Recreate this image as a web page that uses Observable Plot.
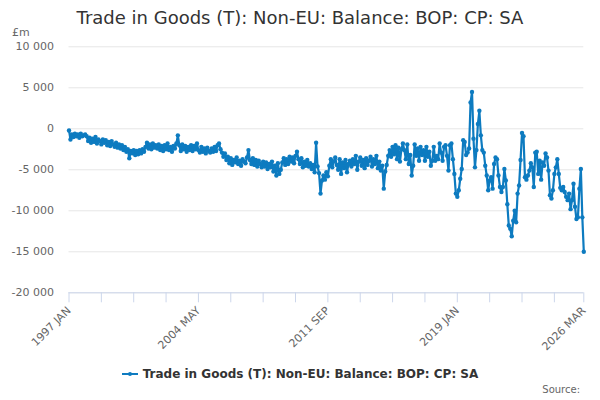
<!DOCTYPE html>
<html><head><meta charset="utf-8">
<script src="https://cdn.jsdelivr.net/npm/d3@7"></script>
<script src="https://cdn.jsdelivr.net/npm/@observablehq/plot@0.6"></script>
<style>
body{margin:0;background:#fff;font-family:"DejaVu Sans",sans-serif;}
#wrap{position:relative;width:600px;height:400px;overflow:hidden;}
#chart{position:absolute;left:0;top:0;}
#title{position:absolute;left:0;width:600px;top:7px;text-align:center;font-size:18px;color:#333;white-space:nowrap;}
#unit{position:absolute;left:12px;top:26px;font-size:11px;color:#666;}
#legend{position:absolute;left:0;width:600px;top:367px;text-align:center;font-size:12px;font-weight:bold;color:#333;white-space:nowrap;}
#legend svg{vertical-align:-1px;margin-right:5px;}
#source{position:absolute;right:20px;top:384px;font-size:10px;color:#666;}
</style></head>
<body><div id="wrap">
<div id="chart"></div>
<div id="title"></div>
<div id="unit">£m</div>
<div id="legend"></div>
<div id="source">Source:</div>
</div>
<script>
const title = "Trade in Goods (T): Non-EU: Balance: BOP: CP: SA";
const seriesName = "Trade in Goods (T): Non-EU: Balance: BOP: CP: SA";
const startYear = 1997;
const monthNames = ["JAN","FEB","MAR","APR","MAY","JUN","JUL","AUG","SEP","OCT","NOV","DEC"];
const tickLabels = ["1997 JAN","2004 MAY","2011 SEP","2019 JAN","2026 MAR"];
const yTicks = [-20000,-15000,-10000,-5000,0,5000,10000];

// monthly values, £m, Jan 1997 - Dec 2006
const values1997_2006 = [
 -200,-1300,-700,-1000,-600,-900,-700,-1100,-600,-900,-800,-700,
 -900,-1500,-1100,-1700,-1200,-1600,-1000,-1800,-1300,-1500,-1900,-1300,
 -1700,-1400,-2000,-1600,-2100,-1500,-1900,-2200,-1700,-2300,-1900,-2400,
 -2000,-2600,-2200,-2800,-2500,-3600,-2700,-3000,-2600,-3200,-2700,-3100,
 -2600,-3000,-2500,-2800,-2200,-1700,-2400,-1900,-2500,-1800,-2300,-2000,
 -2400,-1900,-2600,-2100,-2700,-2000,-2500,-1800,-2600,-2200,-2800,-2100,
 -2400,-1800,-800,-2000,-2700,-1900,-2500,-2100,-2800,-2200,-2600,-2000,
 -2700,-2100,-2500,-1800,-2600,-2900,-2200,-2800,-2400,-3000,-2300,-2700,
 -2900,-2400,-2800,-2200,-2700,-2000,-1800,-2500,-2900,-3400,-3000,-3800,
 -3400,-4200,-3600,-4400,-3800,-4100,-3500,-4300,-3900,-4500,-3700,-4000
];
// Jan 2007 - Dec 2016
const values2007_2016 = [
 -4200,-3500,-2600,-3800,-4300,-3600,-4400,-3800,-4600,-3900,-4300,-4700,
 -4000,-4600,-4100,-4900,-4300,-4700,-4000,-5200,-4500,-5700,-4200,-5500,
 -5000,-4100,-3600,-4400,-3700,-4300,-3400,-4000,-3500,-4200,-3300,-2800,
 -3700,-4300,-3600,-4700,-4000,-4500,-3800,-4600,-4200,-4900,-4400,-5300,
 -1700,-4600,-5400,-7900,-6300,-5700,-6200,-5300,-5800,-4500,-3700,-4700,
 -4000,-3500,-4400,-5000,-3700,-5500,-4100,-4800,-3800,-5300,-4300,-3900,
 -4600,-3700,-4300,-3300,-5000,-4000,-3500,-4500,-3800,-4800,-3600,-4400,
 -3900,-3400,-4600,-3700,-4300,-3300,-4800,-4000,-5100,-4500,-7300,-5200,
 -4400,-3300,-2600,-3400,-2200,-3100,-2000,-3700,-2300,-4000,-2500,-1800,
 -2600,-3700,-1900,-4300,-3200,-5700,-4500,-1900,-3300,-2400,-3900,-2200
];
// Jan 2017 - Mar 2026
const values2017_2026 = [
 -3200,-2600,-3900,-2200,-3400,-2800,-4500,-3900,-2200,-3900,-3300,-3700,
 -1800,-2900,-3900,-2200,-2000,-3300,-5100,-2000,-1800,-3700,-5500,-7900,
 -8300,-7500,-6100,-4900,-1400,-1600,-3200,-2900,-2400,3200,4500,-1200,
 -4700,-2600,600,2200,-800,-2600,-2900,-4500,-5700,-7500,-6300,-5900,
 -7300,-4300,-3500,-3700,-5700,-7100,-7700,-7100,-4900,-6300,-9200,-11800,
 -12200,-13100,-11200,-10000,-11400,-7900,-6900,-3800,-500,-900,-5900,-6200,
 -5700,-5100,-4200,-4700,-7100,-2900,-2800,-5500,-3900,-6200,-4100,-4500,
 -3000,-3500,-5100,-8100,-8500,-7500,-5500,-4700,-3700,-5500,-7200,-7500,
 -7100,-7700,-8300,-8700,-7900,-9800,-8700,-6700,-9500,-11000,-10800,-7300,
 -4900,-10800,-15000
];

const values = [...values1997_2006, ...values2007_2016, ...values2017_2026];
const labelOf = i => `${startYear + Math.floor(i / 12)} ${monthNames[i % 12]}`;
const data = values.map((v, i) => ({i, v, label: labelOf(i)}));
const last = data.length - 1;
const tickEvery = 22;
const xTicks = d3.range(0, last - 10, tickEvery).concat([last]);
const fmt = d => (d < 0 ? "-" : "") + String(Math.abs(d)).replace(/\B(?=(\d{3})+(?!\d))/g, " ");
const color = "#0d7bc0";

const chart = Plot.plot({
  width: 600, height: 362,
  marginLeft: 68.5, marginRight: 16.7, marginTop: 46.3, marginBottom: 69.7,
  style: {fontFamily: "DejaVu Sans", fontSize: "11px", background: "transparent", overflow: "visible"},
  x: {domain: [0, last]},
  y: {domain: [-20000, 10000]},
  marks: [
    Plot.gridY(yTicks, {stroke: "#e6e6e6", strokeOpacity: 1}),
    Plot.axisY(yTicks, {tickSize: 0, tickPadding: 15, tickFormat: fmt, fill: "#666", label: null}),
    Plot.ruleY([-20000], {stroke: "#ccd6eb"}),
    Plot.axisX(xTicks, {tickSize: 10, tickRotate: -45, tickPadding: 6,
      tickFormat: i => { const l = labelOf(i); return tickLabels.includes(l) ? l : ""; },
      stroke: "#ccd6eb", strokeOpacity: 1, fill: "#666", label: null}),
    Plot.line(data, {x: "i", y: "v", stroke: color, strokeWidth: 2.2}),
    Plot.dot(data, {x: "i", y: "v", r: 2.2, fill: color, stroke: null})
  ]
});
document.getElementById("chart").appendChild(chart);
document.getElementById("title").textContent = title;
document.getElementById("legend").innerHTML =
  `<svg width="16" height="10"><line x1="0" x2="16" y1="5" y2="5" stroke="${color}" stroke-width="2"/><circle cx="8" cy="5" r="2" fill="${color}"/></svg>`;
document.getElementById("legend").appendChild(document.createTextNode(seriesName));
</script>
</body></html>
